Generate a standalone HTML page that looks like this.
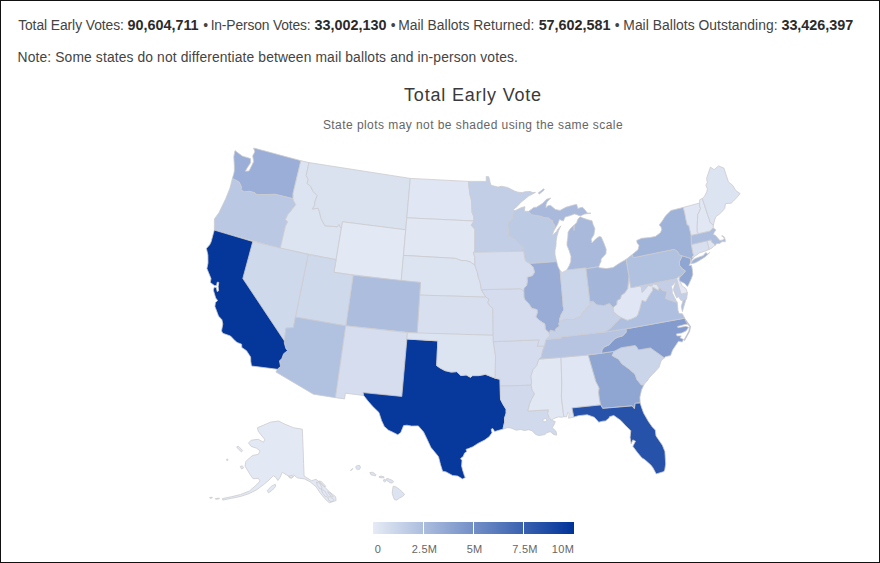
<!DOCTYPE html>
<html><head><meta charset="utf-8"><title>Total Early Vote</title>
<style>
html,body{margin:0;padding:0;background:#fff;}
body{width:880px;height:563px;overflow:hidden;position:relative;font-family:"Liberation Sans",sans-serif;}
#frame{position:absolute;left:0;top:0;width:878px;height:561px;border:1px solid #111;}
svg{position:absolute;left:0;top:0;}
.hd{position:absolute;font-size:13.85px;color:#444;white-space:nowrap;}
.hd.b{font-weight:bold;font-size:14.4px;color:#2b2b2b;}
</style></head><body>
<div id="frame"></div>
<span class="hd" style="top:17.1px;left:18.15px;letter-spacing:-0.072px">Total Early Votes:</span>
<span class="hd b" style="top:17.1px;left:127.40px;letter-spacing:0.000px">90,604,711</span>
<span class="hd" style="top:17.1px;left:203.15px;letter-spacing:0.000px">•</span>
<span class="hd" style="top:17.1px;left:210.65px;letter-spacing:-0.157px">In-Person Votes:</span>
<span class="hd b" style="top:17.1px;left:314.40px;letter-spacing:0.000px">33,002,130</span>
<span class="hd" style="top:17.1px;left:390.65px;letter-spacing:0.000px">•</span>
<span class="hd" style="top:17.1px;left:398.15px;letter-spacing:0.039px">Mail Ballots Returned:</span>
<span class="hd b" style="top:17.1px;left:538.65px;letter-spacing:-0.020px">57,602,581</span>
<span class="hd" style="top:17.1px;left:614.70px;letter-spacing:0.000px">•</span>
<span class="hd" style="top:17.1px;left:623.30px;letter-spacing:0.048px">Mail Ballots Outstanding:</span>
<span class="hd b" style="top:17.1px;left:781.40px;letter-spacing:-0.015px">33,426,397</span>
<span class="hd" style="top:49px;left:17.6px;letter-spacing:0.121px">Note: Some states do not differentiate between mail ballots and in-person votes.</span>
<svg width="880" height="563" viewBox="0 0 880 563">
<defs><linearGradient id="lg" x1="0" y1="0" x2="1" y2="0"><stop offset="0" stop-color="#e6ebf5"/><stop offset="1" stop-color="#003399"/></linearGradient></defs>
<text x="473" y="101" text-anchor="middle" font-family="Liberation Sans, sans-serif" font-size="18" fill="#3a3a3a" letter-spacing="0.8">Total Early Vote</text>
<text x="473" y="128.6" text-anchor="middle" font-family="Liberation Sans, sans-serif" font-size="12" fill="#666" letter-spacing="0.44">State plots may not be shaded using the same scale</text>
<g stroke="#cbcbcf" stroke-width="0.8" stroke-linejoin="round">
<path d="M235.0 150.6L233.8 156.7L234.3 165.0L234.4 170.5L233.8 173.7L232.4 178.4L237.5 181.2L239.1 182.1L241.4 186.9L240.9 190.1L244.6 191.9L249.5 191.3L254.7 192.8L257.0 194.8L263.6 194.6L272.0 194.4L275.0 194.3L293.0 198.7L293.1 193.2L300.9 160.7L253.6 148.0L254.8 151.8L252.7 155.9L253.7 161.6L251.4 166.3L249.0 171.0L245.3 171.2L247.3 167.7L250.6 162.7L250.5 158.6L246.8 157.4L242.6 156.2L238.9 153.6Z" fill="#9aaed7"/>
<path d="M232.4 178.4L230.0 188.0L225.7 198.8L218.9 212.8L214.4 218.9L214.3 230.1L280.2 248.4L285.5 226.0L287.7 221.9L285.5 219.4L288.1 214.1L290.6 211.4L293.1 208.0L295.8 204.7L293.7 200.9L293.0 198.7L275.0 194.3L272.0 194.4L263.6 194.6L257.0 194.8L254.7 192.8L249.5 191.3L244.6 191.9L240.9 190.1L241.4 186.9L239.1 182.1L237.5 181.2L232.4 178.4Z" fill="#bac8e4"/>
<path d="M280.2 248.4L285.5 226.0L287.7 221.9L285.5 219.4L288.1 214.1L290.6 211.4L293.1 208.0L295.8 204.7L293.7 200.9L293.0 198.7L293.1 193.2L300.9 160.7L309.0 162.6L306.2 175.5L308.3 179.7L307.1 183.4L310.5 186.2L313.0 191.3L317.2 195.5L315.1 201.0L314.6 205.5L312.5 209.0L318.2 208.2L319.4 211.7L320.9 217.9L322.2 220.7L325.0 225.8L329.2 226.0L337.4 226.8L338.8 224.4L341.3 228.5L336.1 259.7Z" fill="#dce3f1"/>
<path d="M309.0 162.6L306.2 175.5L308.3 179.7L307.1 183.4L310.5 186.2L313.0 191.3L317.2 195.5L315.1 201.0L314.6 205.5L312.5 209.0L318.2 208.2L319.4 211.7L320.9 217.9L322.2 220.7L325.0 225.8L329.2 226.0L337.4 226.8L338.8 224.4L341.3 228.5L342.5 221.8L405.7 229.8L410.3 178.4Z" fill="#dae2f0"/>
<path d="M342.5 221.8L405.7 229.8L401.2 280.9L334.0 272.3Z" fill="#e3e9f4"/>
<path d="M410.3 178.4L468.5 181.4L469.1 187.9L469.9 194.4L471.6 200.8L471.8 207.3L472.1 212.5L473.7 216.4L474.0 221.0L406.8 217.8Z" fill="#e0e6f3"/>
<path d="M406.8 217.8L474.0 221.0L471.3 225.3L474.9 229.2L474.8 252.3L473.4 252.3L474.8 257.4L474.8 265.1L470.1 261.9L465.8 260.6L461.1 260.5L455.5 258.4L403.5 255.4Z" fill="#e1e7f3"/>
<path d="M403.5 255.4L455.5 258.4L461.1 260.5L465.8 260.6L470.1 261.9L474.8 265.1L477.1 271.5L478.5 277.9L479.8 281.1L480.7 285.6L481.3 289.7L485.8 297.1L419.7 295.1L420.5 282.4L401.2 280.9Z" fill="#dde4f1"/>
<path d="M419.7 295.1L485.8 297.1L488.9 298.9L487.9 302.8L489.9 306.0L492.8 308.3L493.2 335.3L417.1 333.3Z" fill="#d8e0ef"/>
<path d="M353.1 275.3L420.5 282.4L417.1 333.3L345.8 325.8Z" fill="#acbdde"/>
<path d="M308.1 254.5L336.1 259.7L334.0 272.3L353.1 275.3L345.8 325.8L295.4 317.1Z" fill="#cfd9ec"/>
<path d="M252.8 241.5L308.1 254.5L295.4 317.1L293.3 327.7L285.8 328.1L284.4 340.9L242.8 278.5Z" fill="#cfd9ec"/>
<path d="M295.4 317.1L345.8 325.8L335.5 397.7L313.4 394.2L275.9 372.0L277.5 369.3L280.5 366.3L279.5 360.8L281.8 358.7L283.6 353.8L287.5 350.7L285.8 348.4L284.3 342.9L284.4 340.9L285.8 328.1L293.3 327.7Z" fill="#b1c1e0"/>
<path d="M345.8 325.8L407.4 332.6L401.8 396.4L363.1 392.6L363.7 395.5L345.4 393.2L344.6 398.9L335.5 397.7Z" fill="#d5ddee"/>
<path d="M214.3 230.1L252.8 241.5L242.8 278.5L284.4 340.9L284.3 342.9L285.8 348.4L287.5 350.7L283.6 353.8L281.8 358.7L279.5 360.8L280.5 366.3L277.5 369.3L251.5 366.0L250.8 361.6L250.6 357.0L246.5 350.7L241.8 347.5L241.6 344.2L237.1 342.4L234.8 340.5L230.5 336.0L222.8 333.3L221.5 330.9L222.8 324.0L221.9 319.7L218.5 316.1L214.9 306.4L215.4 302.6L217.6 300.6L215.7 298.0L213.3 290.0L214.2 287.2L216.3 287.6L217.2 291.6L218.6 290.8L218.2 286.5L218.8 282.4L217.2 282.2L216.6 285.6L214.4 285.6L210.3 282.4L211.0 278.6L206.9 268.6L208.0 263.0L207.9 254.9L206.4 248.5L209.7 244.7L211.1 241.8L213.4 233.2Z" fill="#05379b"/>
<path d="M406.9 339.0L437.8 340.9L436.7 365.6L439.8 367.8L445.0 370.6L451.3 372.1L456.7 371.6L460.9 375.5L466.2 374.9L470.5 377.3L472.6 375.6L479.0 375.6L485.4 374.3L495.2 378.2L500.0 379.3L500.2 386.1L500.5 399.3L503.0 404.2L506.1 409.3L506.2 413.1L504.5 418.3L504.6 422.2L503.2 428.1L503.4 429.0L497.1 430.8L494.6 431.6L492.8 428.6L491.2 429.2L492.0 432.8L489.2 436.7L484.7 440.0L478.0 443.4L472.8 446.8L468.4 448.6L466.0 449.4L466.8 451.6L464.6 453.0L463.2 456.4L460.6 458.6L462.0 460.6L461.6 466.0L462.6 470.0L464.6 476.3L465.4 477.4L462.5 479.0L457.8 476.1L452.5 475.4L446.1 471.9L442.6 471.2L440.5 464.6L438.5 456.7L430.8 447.3L427.7 440.6L423.6 432.0L418.3 425.9L411.5 426.1L407.0 425.2L403.6 425.6L400.8 432.5L397.8 434.8L393.4 432.5L388.5 430.2L384.3 426.5L381.5 420.4L378.9 412.4L372.8 406.6L367.9 400.9L364.0 395.9L363.7 395.5L363.1 392.6L401.8 396.4Z" fill="#07399c"/>
<path d="M407.4 332.6L493.2 335.3L493.3 341.7L495.5 355.7L495.2 378.2L485.4 374.3L479.0 375.6L472.6 375.6L470.5 377.3L466.2 374.9L460.9 375.5L456.7 371.6L451.3 372.1L445.0 370.6L439.8 367.8L436.7 365.6L437.8 340.9L406.9 339.0Z" fill="#dde4f1"/>
<path d="M493.3 341.7L539.3 339.8L537.3 346.3L544.4 345.9L542.6 351.1L541.2 357.0L539.0 359.1L536.7 365.6L533.2 369.6L530.9 376.2L531.7 381.3L531.2 385.2L500.2 386.1L500.0 379.3L495.2 378.2L495.5 355.7L493.3 341.7Z" fill="#d4dcee"/>
<path d="M500.2 386.1L531.2 385.2L532.2 390.2L534.6 394.0L531.6 399.3L529.6 403.9L527.8 411.0L548.5 409.8L547.6 413.8L549.3 417.5L551.4 420.2L555.3 421.6L554.3 424.3L552.3 427.7L556.0 431.3L556.8 435.1L554.0 434.7L550.3 431.7L547.0 432.6L544.8 434.6L539.2 435.6L535.7 434.5L532.1 430.8L528.7 429.7L524.2 430.6L520.8 429.4L516.3 430.2L510.6 427.9L507.2 427.7L503.4 429.0L503.2 428.1L504.6 422.2L504.5 418.3L506.2 413.1L506.1 409.3L503.0 404.2L500.5 399.3Z" fill="#d0daec"/>
<path d="M561.0 357.4L561.8 383.0L561.4 397.2L563.8 416.7L562.2 417.2L558.3 416.9L553.9 418.5L551.4 420.2L549.3 417.5L547.6 413.8L548.5 409.8L527.8 411.0L529.6 403.9L531.6 399.3L534.6 394.0L532.2 390.2L531.2 385.2L531.7 381.3L530.9 376.2L533.2 369.6L536.7 365.6L539.0 359.1Z" fill="#e1e7f3"/>
<path d="M561.0 357.4L561.8 383.0L561.4 397.2L563.8 416.7L566.7 416.8L567.6 412.5L569.2 413.4L568.5 418.2L571.2 417.7L573.8 417.1L572.0 407.9L600.7 404.9L599.4 398.5L598.6 392.2L599.2 388.2L598.4 386.4L595.9 381.5L588.2 354.9Z" fill="#e0e6f3"/>
<path d="M588.2 354.9L601.6 353.2L614.2 351.3L612.2 355.5L615.7 357.6L618.6 359.1L622.0 363.8L629.3 369.1L635.0 374.1L637.0 379.6L641.2 384.8L643.8 385.1L641.5 389.9L639.9 397.3L640.2 403.0L635.2 403.3L634.4 408.7L632.1 405.9L602.7 408.4L600.7 404.9L599.4 398.5L598.6 392.2L599.2 388.2L598.4 386.4L595.9 381.5Z" fill="#8fa5d2"/>
<path d="M572.0 407.9L600.7 404.9L602.7 408.4L632.1 405.9L634.4 408.7L635.2 403.3L640.2 403.0L641.4 406.9L643.6 413.1L648.4 421.4L652.1 426.7L655.3 430.1L656.0 435.9L662.4 445.3L664.9 451.5L665.4 459.4L665.7 464.0L664.8 469.4L664.0 471.6L656.2 473.9L653.1 468.1L650.9 465.1L644.6 459.5L642.0 458.0L637.6 452.7L634.0 448.0L632.8 446.2L635.5 441.2L632.8 439.9L631.2 443.8L630.1 437.4L630.8 430.7L625.5 425.6L620.8 420.4L613.8 415.5L609.5 416.7L609.1 418.1L605.5 420.9L602.7 421.2L598.8 422.2L594.3 417.3L587.2 414.8L578.4 415.7L573.8 417.1Z" fill="#2752a9"/>
<path d="M614.2 351.3L621.2 347.7L635.2 345.5L636.8 347.2L638.6 349.9L650.4 347.9L664.3 357.8L661.1 361.0L659.0 367.3L656.3 370.4L652.6 374.3L648.9 378.2L647.2 381.1L645.3 382.8L643.8 385.1L641.2 384.8L637.0 379.6L635.0 374.1L629.3 369.1L622.0 363.8L618.6 359.1L615.7 357.6L612.2 355.5L614.2 351.3Z" fill="#cad5ea"/>
<path d="M625.9 328.9L626.2 332.1L622.6 335.9L617.5 337.3L614.6 339.0L611.4 342.0L609.2 344.8L604.2 346.9L601.9 349.8L601.6 353.2L614.2 351.3L621.2 347.7L635.2 345.5L636.8 347.2L638.6 349.9L650.4 347.9L664.3 357.8L665.7 356.6L670.5 355.6L672.6 350.1L676.1 344.8L678.5 341.2L682.2 342.0L683.5 339.4L680.1 337.8L681.2 335.9L676.9 335.9L676.4 333.9L681.7 333.0L686.0 330.9L688.6 327.4L686.0 326.3L678.0 327.7L677.4 326.5L685.4 324.3L687.8 324.3L684.7 318.2Z" fill="#839ccd"/>
<path d="M605.5 331.9L560.8 336.9L560.9 338.2L546.0 339.4L545.2 342.6L544.4 345.9L542.6 351.1L541.2 357.0L539.0 359.1L561.0 357.4L588.2 354.9L601.6 353.2L601.6 353.2L601.9 349.8L604.2 346.9L609.2 344.8L611.4 342.0L614.6 339.0L617.5 337.3L622.6 335.9L626.2 332.1L625.9 328.9Z" fill="#b6c4e2"/>
<path d="M549.3 333.0L550.4 330.1L555.2 331.4L555.5 329.0L559.3 326.1L558.6 323.6L559.6 321.6L564.3 319.3L569.9 319.4L574.0 319.6L576.8 317.4L580.3 317.0L581.9 313.4L584.2 310.8L586.8 307.3L590.1 305.6L589.9 301.7L593.1 301.3L596.5 304.8L603.7 305.7L609.5 303.6L613.1 307.6L613.7 311.4L616.8 314.8L621.1 317.5L617.7 321.1L611.0 327.9L605.5 331.9L560.8 336.9L560.9 338.2L546.0 339.4L547.9 337.9L549.3 335.9L549.3 333.0Z" fill="#c6d1e8"/>
<path d="M605.5 331.9L611.0 327.9L617.7 321.1L621.1 317.5L627.4 320.2L631.3 319.0L636.1 316.8L637.8 314.6L639.8 308.4L641.9 300.3L645.7 301.5L649.0 295.7L652.5 290.5L652.6 286.9L656.2 289.0L658.5 290.2L658.9 287.6L660.9 288.1L662.4 290.4L665.6 291.1L667.0 292.1L666.7 294.1L665.5 298.3L669.5 300.0L674.5 301.6L677.2 302.3L677.7 306.7L678.0 310.6L679.2 313.6L682.4 313.8L684.7 318.2L625.9 328.9Z" fill="#afbfdf"/>
<path d="M682.4 311.6L685.6 300.4L686.7 298.4L683.0 300.3L681.3 306.6Z" fill="#afbfdf"/>
<path d="M628.9 276.1L628.7 279.3L628.2 283.9L627.7 288.5L624.9 292.8L621.3 295.4L620.4 298.7L617.1 300.5L616.7 304.5L613.1 307.6L613.7 311.4L616.8 314.8L621.1 317.5L621.1 317.5L627.4 320.2L631.3 319.0L636.1 316.8L637.8 314.6L639.8 308.4L641.9 300.3L645.7 301.5L649.0 295.7L652.5 290.5L652.6 286.9L656.2 289.0L658.5 290.2L658.9 287.6L657.9 286.1L657.1 284.4L653.4 283.8L651.4 286.1L648.2 285.4L645.8 288.5L642.2 292.4L641.0 285.9L630.9 287.7Z" fill="#e0e6f3"/>
<path d="M641.0 285.9L676.6 278.6L681.1 294.1L687.4 292.7L686.7 298.4L683.0 300.3L680.9 300.4L678.6 296.7L676.7 297.8L674.8 293.7L673.5 290.0L673.9 287.3L675.5 283.0L674.3 281.3L674.5 283.3L671.2 286.6L672.2 289.0L672.3 292.9L674.6 297.6L676.1 300.6L677.2 302.3L674.5 301.6L669.5 300.0L665.5 298.3L666.7 294.1L667.0 292.1L665.6 291.1L662.4 290.4L660.9 288.1L658.9 287.6L657.9 286.1L657.1 284.4L653.4 283.8L651.4 286.1L648.2 285.4L645.8 288.5L642.2 292.4Z" fill="#c4cfe7"/>
<path d="M676.6 278.6L678.1 276.7L680.0 276.8L679.3 279.6L680.5 282.6L682.3 286.1L685.9 288.5L687.4 292.7L681.1 294.1L676.6 278.6Z" fill="#e3e8f4"/>
<path d="M682.2 255.8L690.8 258.4L690.6 262.4L689.0 265.4L691.5 265.2L692.4 269.9L692.8 274.4L691.6 278.0L688.3 285.3L687.3 286.5L684.8 283.5L680.2 281.3L679.3 279.6L680.0 276.8L682.3 274.9L685.3 270.9L681.8 268.5L679.5 265.2L679.4 261.6L682.2 255.8Z" fill="#8fa5d2"/>
<path d="M633.1 257.7L632.5 254.3L626.0 259.4L630.9 287.7L676.6 278.6L678.1 276.7L680.0 276.8L682.3 274.9L685.3 270.9L681.8 268.5L679.5 265.2L679.4 261.6L682.2 255.8L679.3 254.9L677.8 251.7L674.2 249.3Z" fill="#b1c1e0"/>
<path d="M633.1 257.7L632.5 254.3L638.0 249.7L639.1 245.6L637.1 242.7L636.7 240.5L641.6 238.3L650.0 237.5L655.5 236.4L660.4 232.7L661.7 229.8L661.0 226.7L659.2 225.1L662.1 221.2L665.6 215.8L671.0 210.5L683.3 207.4L684.9 213.7L686.1 220.0L687.3 225.0L688.8 225.3L691.2 235.3L691.4 244.5L693.2 253.9L694.1 255.0L692.1 256.8L693.2 257.8L692.1 259.4L690.6 262.4L690.8 258.4L682.2 255.8L679.3 254.9L677.8 251.7L674.2 249.3Z" fill="#9fb2d8"/>
<path d="M690.8 263.7L694.9 262.9L697.6 261.6L701.9 258.9L705.4 256.7L709.7 252.6L707.7 254.1L705.8 252.6L703.1 255.7L698.5 257.2L694.9 258.7L692.4 260.7Z" fill="#9fb2d8"/>
<path d="M691.4 244.5L693.2 253.9L694.1 255.0L692.1 256.8L693.2 257.8L695.2 256.0L699.4 253.0L704.9 251.2L708.9 249.5L709.1 248.4L707.1 240.9L707.0 240.6Z" fill="#d8e0ef"/>
<path d="M707.1 240.9L709.1 248.4L708.9 249.5L712.0 248.0L713.6 246.4L715.1 245.4L713.8 243.5L712.2 242.5L711.3 241.2L711.0 239.8L711.0 239.8Z" fill="#dfe5f2"/>
<path d="M691.2 235.3L698.7 233.6L709.8 231.0L713.1 227.8L715.9 229.9L714.1 232.4L713.3 234.6L715.4 235.3L717.7 238.0L719.9 240.5L722.7 239.9L724.4 238.8L722.5 236.0L721.6 236.0L723.0 235.8L724.5 237.4L725.3 240.2L725.3 241.8L722.2 241.6L719.7 243.4L716.8 243.6L715.1 245.4L713.8 243.5L712.2 242.5L711.3 241.2L711.0 239.8L707.1 240.9L691.4 244.5Z" fill="#acbdde"/>
<path d="M683.3 207.4L699.6 203.0L699.6 206.5L700.6 208.2L699.2 211.9L697.7 215.0L697.5 219.7L697.2 227.1L697.3 231.7L698.7 233.6L691.2 235.3L688.8 225.3L687.3 225.0L686.1 220.0L684.9 213.7Z" fill="#e0e6f3"/>
<path d="M699.6 203.0L699.6 206.5L700.6 208.2L699.2 211.9L697.7 215.0L697.5 219.7L697.2 227.1L697.3 231.7L698.7 233.6L709.8 231.0L713.1 227.8L713.5 225.0L712.9 224.8L710.0 222.3L709.4 219.8L707.5 214.3L702.3 198.4L699.7 199.8Z" fill="#e1e7f3"/>
<path d="M702.3 198.4L707.5 214.3L709.4 219.8L710.0 222.3L712.9 224.8L713.5 225.0L714.3 221.0L715.9 216.6L719.1 214.3L721.4 212.3L724.7 208.6L725.5 203.6L731.2 203.2L733.4 201.1L737.0 197.3L740.1 193.6L735.8 190.5L732.6 185.2L728.5 182.1L723.9 168.1L718.5 165.9L714.1 169.7L710.4 167.1L706.6 178.4L707.3 182.3L705.9 185.4L707.4 188.9L706.8 191.8L704.4 196.5Z" fill="#dce3f1"/>
<path d="M468.5 181.4L469.1 187.9L469.9 194.4L471.6 200.8L471.8 207.3L472.1 212.5L473.7 216.4L474.0 221.0L471.3 225.3L474.9 229.2L474.8 252.3L523.6 251.2L522.9 246.7L519.2 244.3L515.4 240.0L513.0 238.2L508.3 235.8L508.5 232.6L509.0 228.7L507.2 224.3L510.4 220.3L512.3 218.5L513.6 210.5L513.6 209.4L517.2 206.4L520.8 202.4L528.7 196.1L535.5 192.4L532.9 192.6L530.2 191.5L524.5 191.8L522.4 192.6L518.0 192.2L514.5 191.0L511.0 189.2L507.5 187.4L501.4 186.3L498.0 187.1L491.0 185.2L490.2 182.7L488.8 176.8L486.2 176.5L486.3 181.4Z" fill="#c1cee6"/>
<path d="M513.6 210.5L512.3 218.5L510.4 220.3L507.2 224.3L509.0 228.7L508.5 232.6L508.3 235.8L513.0 238.2L515.4 240.0L519.2 244.3L522.9 246.7L523.6 251.2L524.6 257.5L525.7 261.3L529.6 263.6L556.6 261.6L555.0 254.7L555.0 250.2L556.0 245.6L556.1 241.1L557.0 235.9L558.4 231.2L560.8 225.8L557.7 229.3L556.6 231.4L552.4 235.6L553.4 231.7L555.2 228.3L554.6 225.1L553.1 223.3L552.3 220.2L550.0 219.7L549.0 217.9L544.5 217.6L540.8 216.2L531.7 214.7L528.6 211.4L524.3 211.2L525.0 206.7L521.5 207.5L515.4 210.4Z" fill="#bdcae4"/>
<path d="M528.6 211.4L533.9 207.4L536.5 207.2L542.4 203.5L546.5 199.3L550.8 198.0L547.2 201.8L546.1 204.5L545.9 207.8L547.9 205.7L550.6 205.4L555.4 209.5L560.0 210.4L565.9 207.2L573.7 205.0L576.7 204.4L577.7 208.4L582.5 207.2L585.1 210.1L587.3 213.0L590.9 213.2L584.7 214.0L580.2 215.9L574.7 213.9L569.5 215.8L565.1 217.0L563.3 221.0L559.5 219.5L557.7 224.2L555.2 228.3L554.6 225.1L553.1 223.3L552.3 220.2L550.0 219.7L549.0 217.9L544.5 217.6L540.8 216.2L531.7 214.7Z" fill="#a8b9dc"/>
<path d="M566.7 270.2L585.9 268.0L586.0 268.8L598.8 266.7L599.9 263.7L601.0 261.6L601.1 259.0L605.2 254.5L605.9 253.8L606.2 249.2L603.4 241.9L601.2 237.0L599.3 236.4L596.3 238.4L591.8 242.9L591.2 239.1L593.9 234.8L594.9 228.8L593.1 224.5L592.0 220.8L587.2 219.5L583.0 218.1L580.1 216.8L577.7 219.4L576.7 222.8L574.2 225.0L574.0 230.6L573.8 225.1L569.7 229.4L568.1 232.2L567.8 238.0L567.1 241.9L567.0 245.2L569.2 250.7L571.0 256.3L570.8 261.5L569.3 265.5Z" fill="#a8b9dc"/>
<path d="M529.6 263.6L556.6 261.6L558.0 266.6L560.1 270.8L562.9 301.5L563.1 305.9L563.9 309.7L560.9 315.1L559.7 319.1L559.6 321.6L558.6 323.6L559.3 326.1L555.5 329.0L555.2 331.4L550.4 330.1L549.3 333.0L545.3 329.2L544.9 324.1L539.6 320.6L535.8 317.0L537.3 312.7L537.1 309.7L531.8 308.3L528.5 303.4L524.9 299.7L523.9 297.2L523.7 291.1L523.8 288.3L526.6 285.6L527.3 281.7L527.1 277.2L532.3 275.7L534.5 272.3L533.2 267.3L529.6 263.6Z" fill="#98acd6"/>
<path d="M560.1 270.8L562.3 272.4L566.7 270.2L585.9 268.0L589.9 301.7L590.1 305.6L586.8 307.3L584.2 310.8L581.9 313.4L580.3 317.0L576.8 317.4L574.0 319.6L569.9 319.4L564.3 319.3L559.6 321.6L559.7 319.1L560.9 315.1L563.9 309.7L563.1 305.9L562.9 301.5L560.1 270.8Z" fill="#ccd6ea"/>
<path d="M586.0 268.8L598.8 266.7L599.0 267.7L606.4 268.6L613.0 267.6L619.1 263.4L626.0 259.4L628.9 276.1L628.7 279.3L628.2 283.9L627.7 288.5L624.9 292.8L621.3 295.4L620.4 298.7L617.1 300.5L616.7 304.5L613.1 307.6L609.5 303.6L603.7 305.7L596.5 304.8L593.1 301.3L589.9 301.7Z" fill="#a3b6da"/>
<path d="M481.3 289.7L520.6 288.7L523.7 291.1L523.9 297.2L524.9 299.7L528.5 303.4L531.8 308.3L537.1 309.7L537.3 312.7L535.8 317.0L539.6 320.6L544.9 324.1L545.3 329.2L549.3 333.0L549.3 335.9L547.9 337.9L546.0 339.4L545.2 342.6L544.4 345.9L537.3 346.3L539.3 339.8L493.3 341.7L493.2 335.3L492.8 308.3L489.9 306.0L487.9 302.8L488.9 298.9L485.8 297.1L481.3 289.7Z" fill="#d4dcee"/>
<path d="M474.8 252.3L523.6 251.2L524.6 257.5L525.7 261.3L529.6 263.6L533.2 267.3L534.5 272.3L532.3 275.7L527.1 277.2L527.3 281.7L526.6 285.6L523.8 288.3L523.7 291.1L520.6 288.7L481.3 289.7L480.7 285.6L479.8 281.1L478.5 277.9L477.1 271.5L474.8 265.1L474.8 257.4L473.4 252.3Z" fill="#d5ddee"/>
<path d="M538.2 193.0L543.6 188.8L544.4 189.8L539.4 194.0Z" fill="#a8b9dc"/>
<path d="M685.6 319.5L690.6 326.5L689.6 331.5L684.6 340.5L684.0 340.0L688.8 331.3L689.8 326.7L685.0 319.9Z" fill="#839ccd"/>
<path d="M257.4 427.8L263.6 425.1L270.7 422.1L278.7 421.0L284.9 424.2L293.8 427.8L302.3 429.2L303.0 445.5L303.6 463.3L304.1 476.1L311.6 480.7L316.0 479.3L322.2 484.6L329.3 491.7L335.6 496.7L336.1 500.6L329.3 502.7L325.8 499.7L320.5 493.5L316.0 486.7L310.2 481.9L304.5 478.9L297.4 477.9L293.8 475.0L288.5 476.1L284.9 473.9L282.3 472.2L280.0 477.5L277.8 480.5L276.0 477.5L273.4 475.7L268.9 480.2L263.6 484.6L256.5 489.9L249.4 493.5L240.5 496.5L231.6 498.3L222.8 500.1L222.4 498.6L231.6 496.7L240.5 494.5L249.4 491.0L255.6 485.7L260.1 481.0L258.3 478.4L253.0 478.7L250.3 474.8L247.6 470.4L245.0 466.0L245.9 461.5L249.4 458.0L253.0 455.3L258.3 454.4L260.1 450.9L256.5 448.2L251.2 446.4L248.5 442.9L251.2 440.2L258.3 439.3L263.6 442.3L264.7 439.3L261.0 434.9L258.3 431.3ZM236.6 446.9L238.4 446.2L242.7 450.5L241.6 451.9L238.7 449.4ZM240.2 466.5L242.3 465.8L243.5 467.9L241.6 469.0ZM267.2 490.8L271.1 486.4L275.2 484.2L275.7 486.4L272.5 489.9L268.6 492.8ZM226.7 459.2L227.9 459.2L227.9 460.4L226.7 460.4ZM316.5 481.9L319.6 483.2L322.2 488.2L320.1 489.0L317.3 485.5ZM321.3 489.0L324.4 490.8L327.6 495.3L325.8 497.0L322.6 493.1ZM327.6 497.0L330.2 496.7L333.8 499.7L332.0 502.0L329.0 500.6ZM318.7 481.0L321.3 481.4L325.8 486.4L324.0 486.7ZM327.6 491.7L330.2 493.1L333.2 496.7L331.5 497.0ZM215.3 498.6L219.2 498.1L219.4 498.8L215.7 499.3ZM209.6 497.6L212.1 497.2L212.3 497.9L210.0 498.3ZM288.5 476.1L291.1 477.1L293.8 476.1L292.0 478.2L289.5 477.9Z" fill="#e3e9f4"/>
<path d="M350.5 470.4L352.5 468.3L352.9 468.7L350.9 470.8ZM355.8 466.5L357.6 465.4L359.7 465.5L360.5 467.3L359.5 469.3L357.4 469.6L356.0 468.5ZM369.8 472.6L372.2 472.2L374.4 473.2L376.1 474.9L375.4 475.9L373.2 475.3L371.1 474.9ZM379.1 476.5L381.5 476.1L384.1 476.9L383.8 477.9L381.0 477.7L379.3 477.5ZM383.6 479.8L385.1 479.4L385.9 481.0L384.7 482.0L383.6 481.2ZM386.1 479.0L388.0 478.4L389.8 479.4L392.2 480.2L393.7 481.6L392.2 483.1L389.8 482.7L388.3 481.4L386.7 480.6ZM393.2 486.2L396.2 487.0L399.6 489.4L402.5 492.1L404.6 494.6L402.5 496.5L399.6 498.0L396.6 500.1L394.5 499.7L393.2 496.5L392.2 493.1L392.7 489.2Z" fill="#dce3f1"/>
<path d="M542.8 419.6L545.6 418.4L547.0 420.2L545.2 421.8L543.2 421.4Z" fill="#fff"/>
</g>
<rect x="373" y="522" width="201" height="12" fill="url(#lg)"/>
<g stroke="#fff" stroke-width="1"><path d="M423.5 522V534M473.5 522V534M523.5 522V534"/></g>
<g font-family="Liberation Sans, sans-serif" font-size="11" fill="#666" text-anchor="middle" letter-spacing="0.3">
<text x="378" y="553">0</text><text x="424.5" y="553">2.5M</text><text x="474.6" y="553">5M</text><text x="525" y="553">7.5M</text><text x="563" y="553">10M</text>
</g>
</svg>
</body></html>
